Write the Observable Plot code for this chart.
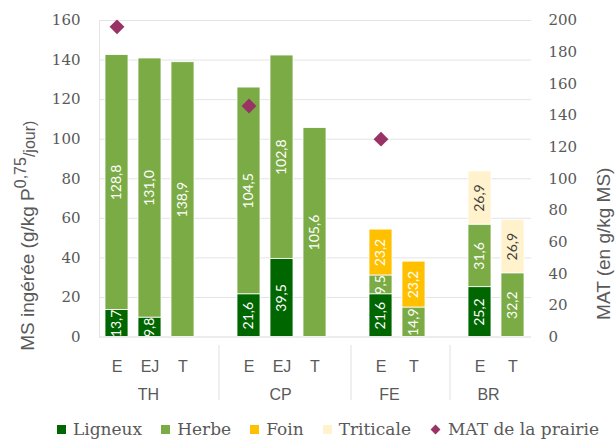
<!DOCTYPE html>
<html>
<head>
<meta charset="utf-8">
<script src="https://cdn.jsdelivr.net/npm/d3@7"></script>
<script src="https://cdn.jsdelivr.net/npm/@observablehq/plot@0.6"></script>
<style>
  html, body { margin: 0; padding: 0; background: white; overflow: hidden; width: 616px; height: 439px; }
  #chart { height: 415px; }
  #legend { display: flex; align-items: center; height: 28px; margin-left: 57px;
            font-family: "DejaVu Serif"; font-size: 17px; color: #595959; white-space: nowrap; }
  #legend .item { display: flex; align-items: center; margin-right: 19px; }
  #legend .sw { width: 9px; height: 9px; margin-right: 7px; display: inline-block; }
  #legend .dia { width: 7px; height: 7px; margin: 0 9px 0 2px; transform: rotate(45deg); display: inline-block; }
</style>
</head>
<body>
<div id="chart"></div>
<script>
// ---- Data ----
const groupOf   = ["TH", "TH", "TH", "CP", "CP", "CP", "FE", "FE", "BR", "BR"];
const subOf     = ["E", "EJ", "T", "E", "EJ", "T", "E", "T", "E", "T"];
const ligneux   = [13.7, 9.8, 0, 21.6, 39.5, 0, 21.6, 0, 25.2, 0];
const herbe     = [128.8, 131.0, 138.9, 104.5, 102.8, 105.6, 9.5, 14.9, 31.6, 32.2];
const foin      = [0, 0, 0, 0, 0, 0, 23.2, 23.2, 0, 0];
const triticale = [0, 0, 0, 0, 0, 0, 0, 0, 26.9, 26.9];
const matPrairie = [196, null, null, 146, null, null, 125, null, null, null];
const seriesNames = ["Ligneux", "Herbe", "Foin", "Triticale"];
const seriesColors = ["#006600", "#7aab44", "#ffc000", "#fff2cc"];
const matLabel = "MAT de la prairie";
const leftTicks = [0, 20, 40, 60, 80, 100, 120, 140, 160];
const rightTicks = [0, 20, 40, 60, 80, 100, 120, 140, 160, 180, 200];
const yTitle = ["MS ingérée (g/kg P", "0,75", "/jour)"];
const y2Title = "MAT (en g/kg MS)";

// ---- Build tables ----
const seriesValues = [ligneux, herbe, foin, triticale];
const ratio = 160 / 200; // right axis -> left axis
const slots = [];
const slotSub = new Map();
const slotOfBar = [];
const gapSlots = [];
groupOf.forEach((g, i) => {
  if (i > 0 && g !== groupOf[i - 1]) {
    const gk = "gap" + gapSlots.length;
    gapSlots.push(gk); slots.push(gk); slotSub.set(gk, "");
  }
  const k = g + "-" + subOf[i];
  slots.push(k); slotSub.set(k, subOf[i]); slotOfBar.push(k);
});
const rows = [];
groupOf.forEach((g, i) => {
  let cum = 0;
  seriesNames.forEach((s, j) => {
    const v = seriesValues[j][i];
    if (v > 0) {
      rows.push({slot: slotOfBar[i], type: s, y1: cum, y2: cum + v, mid: cum + v / 2,
                 label: v.toFixed(1).replace(".", ",")});
      cum += v;
    }
  });
});
const matRows = matPrairie.map((m, i) => ({slot: slotOfBar[i], mat: m})).filter(d => d.mat != null);
const groupNames = Array.from(new Set(groupOf));
const groupRows = groupNames.map(g => {
  const members = slotOfBar.filter((s, i) => groupOf[i] === g);
  return {g, n: members.length, slot: members[Math.floor((members.length - 1) / 2)]};
});

const fmt = v => String(v);
const fullYTitle = yTitle.join("");

const chart = Plot.plot({
  width: 616,
  height: 415,
  marginLeft: 99,
  marginRight: 85,
  marginTop: 20,
  marginBottom: 78.5,
  style: {fontFamily: "Liberation Sans", fontSize: "16px", color: "#595959", background: "white", overflow: "visible"},
  x: {type: "band", domain: slots, paddingInner: 0.3, paddingOuter: 0.15, axis: null},
  y: {domain: [0, 160], axis: null},
  color: {domain: seriesNames, range: seriesColors},
  marks: [
    Plot.gridY(leftTicks.filter(d => d > 0), {stroke: "#e4e4e4", strokeOpacity: 1}),
    Plot.frame({anchor: "left", stroke: "#e4e4e4"}),
    Plot.ruleY([0], {stroke: "#d9d9d9"}),
    Plot.barY(rows, {x: "slot", y1: "y1", y2: "y2", fill: "type", stroke: "white", strokeWidth: 0.8}),
    Plot.text(rows.filter(d => d.type !== "Triticale"), {x: "slot", y: "mid", text: "label", rotate: -90,
      fill: "white", fontFamily: "Lato", fontSize: 14}),
    Plot.text(rows.filter(d => d.type === "Triticale"), {x: "slot", y: "mid", text: "label", rotate: -90,
      fill: "#404040", fontFamily: "Lato", fontSize: 14}),
    Plot.dot(matRows, {x: "slot", y: d => d.mat * ratio, symbol: "diamond2", r: 6.7, fill: "#993366"}),
    Plot.axisY(leftTicks, {anchor: "left", tickSize: 0, tickPadding: 19, tickFormat: fmt, label: null,
      fontFamily: "DejaVu Serif", fontSize: 15, fill: "#595959"}),
    Plot.axisY(rightTicks.map(v => v * ratio), {anchor: "right", tickSize: 0, tickPadding: 17,
      tickFormat: d => String(Math.round(d / ratio)), label: null,
      fontFamily: "DejaVu Serif", fontSize: 15, fill: "#595959"}),
    Plot.axisX({tickSize: 0, tickPadding: 23.5, tickFormat: s => slotSub.get(s), label: null,
      fontFamily: "Liberation Sans", fontSize: 16, fill: "#595959"}),
    Plot.text(groupRows.filter(d => d.n === 3), {x: "slot", text: "g", frameAnchor: "bottom", lineAnchor: "top",
      dy: 51.5, dx: -1.5, fontFamily: "Liberation Sans", fontSize: 16, fill: "#595959"}),
    Plot.text(groupRows.filter(d => d.n === 2), {x: "slot", text: "g", frameAnchor: "bottom", lineAnchor: "top",
      dy: 51.5, dx: 8.5, fontFamily: "Liberation Sans", fontSize: 16, fill: "#595959"}),
    Plot.ruleX(gapSlots, {x: d => d, dx: 3, stroke: "#e0e0e0", insetTop: 325, insetBottom: -63.5}),
    Plot.text([y2Title], {text: d => d, frameAnchor: "right", textAnchor: "middle", dx: 72, dy: 65, rotate: -90,
      fontFamily: "Liberation Sans", fontSize: 19, fill: "#595959"}),
    Plot.text([fullYTitle], {text: d => d, frameAnchor: "left", textAnchor: "middle", dx: -72, dy: 57, rotate: -90,
      fontFamily: "Liberation Sans", fontSize: 19, fill: "#595959"})
  ]
});

// rich text for the left axis title (superscript)
const t = d3.select(chart).selectAll("text").filter(function() { return this.textContent === fullYTitle; });
t.text(null);
t.append("tspan").text(yTitle[0]);
t.append("tspan").attr("font-size", 16).attr("dy", -8).text(yTitle[1]);
t.append("tspan").attr("font-size", 16).attr("dy", 9).text(yTitle[2]);

document.getElementById("chart").appendChild(chart);

// legend below the chart
const legend = d3.select("body").append("div").attr("id", "legend");
seriesNames.forEach((s, i) => {
  const it = legend.append("span").attr("class", "item");
  it.append("span").attr("class", "sw").style("background", seriesColors[i]);
  it.append("span").text(s);
});
const mi = legend.append("span").attr("class", "item");
mi.append("span").attr("class", "dia").style("background", "#993366");
mi.append("span").text(matLabel);
</script>
</body>
</html>
